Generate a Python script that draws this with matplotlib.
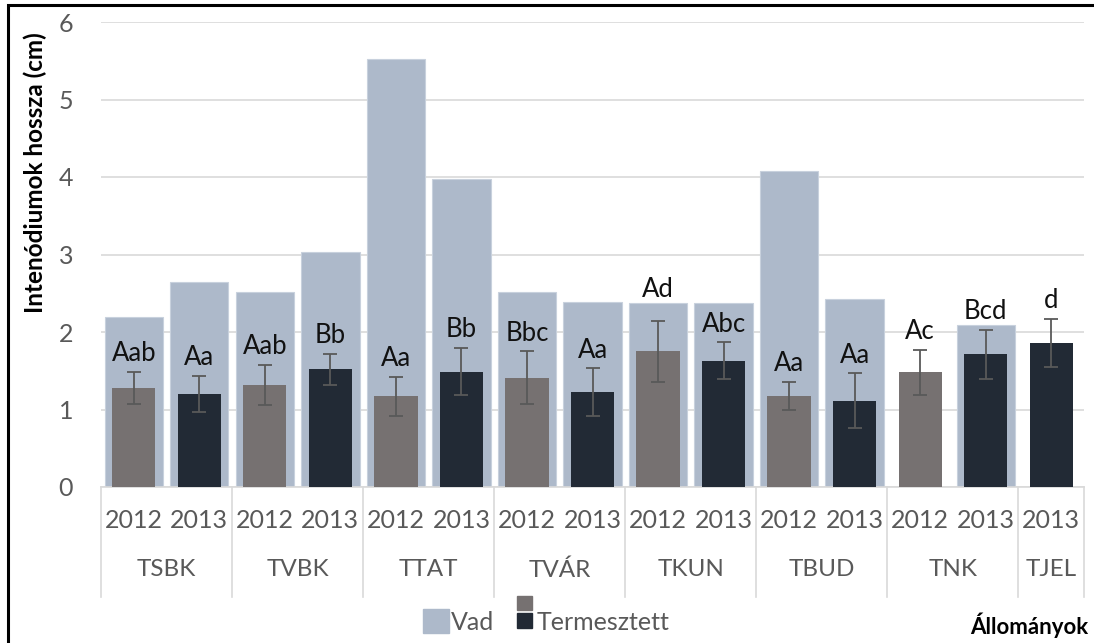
import numpy as np
import matplotlib
matplotlib.use("Agg")
from matplotlib import pyplot as plt
from matplotlib.patches import Rectangle

plt.rcParams['font.family'] = ['Lato', 'DejaVu Sans']

# allomanyok (stations) and the number of years under each
stations = ['TSBK', 'TVBK', 'TTAT', 'TVÁR', 'TKUN', 'TBUD', 'TNK', 'TJEL']
station_years = [2, 2, 2, 2, 2, 2, 2, 1]

years = ['2012', '2013', '2012', '2013', '2012', '2013', '2012', '2013',
         '2012', '2013', '2012', '2013', '2012', '2013', '2013']

# Vad (wild) - no value for TNK 2012 and TJEL 2013
vad = [2.20, 2.64, 2.52, 3.03, 5.52, 3.98, 2.52, 2.39,
       2.37, 2.37, 4.08, 2.43, None, 2.09, None]

# Termesztett (cultivated) means and errors
termesztett = [1.28, 1.20, 1.32, 1.52, 1.17, 1.49, 1.41, 1.22,
               1.75, 1.63, 1.18, 1.11, 1.48, 1.71, 1.86]
hiba = [0.21, 0.23, 0.26, 0.20, 0.25, 0.30, 0.34, 0.31,
        0.39, 0.235, 0.18, 0.355, 0.29, 0.32, 0.31]

betuk = ['Aab', 'Aa', 'Aab', 'Bb', 'Aa', 'Bb', 'Bbc', 'Aa',
         'Ad', 'Abc', 'Aa', 'Aa', 'Ac', 'Bcd', 'd']

colVad = '#ADB9CA'
col2012 = '#767171'
col2013 = '#222A35'
colTick = '#595959'
colGrid = '#D9D9D9'

W, H = 1094, 643
def fx(px):
    return px / W
def fy(py):
    return 1 - py / H

fig = plt.figure(figsize=(W / 100, H / 100), dpi=100)
ax = fig.add_axes([fx(101), fy(487), fx(1084) - fx(101), fy(22) - fy(487)])

x = np.arange(len(years))

'''
Wide light bars for Vad
'''
vadArr = np.array([np.nan if v is None else v for v in vad])
ok = ~np.isnan(vadArr)
ax.bar(x[ok], vadArr[ok], width=0.89, color=colVad, edgecolor='#C8D1DD',
       linewidth=0.8, zorder=2)

'''
Narrow bars for Termesztett, coloured by year
'''
colors = [col2012 if y == '2012' else col2013 for y in years]
ax.bar(x, termesztett, width=0.66, color=colors, zorder=3)
ax.errorbar(x, termesztett, yerr=hiba, fmt='none', ecolor=colTick,
            elinewidth=1.3, capsize=4.7, capthick=1.3, zorder=4)

# letters above the error bars, lifted over the Vad bar if they would hit its top
for i in range(len(x)):
    yt = termesztett[i] + hiba[i] + 0.14
    if ok[i] and yt < vadArr[i] < yt + 0.3:
        yt = vadArr[i] + 0.08
    ax.text(x[i], yt, betuk[i], ha='center', va='baseline', fontsize=18.5,
            color='#111111', zorder=5)

ax.set_xlim(-0.5, len(years) - 0.5)
ax.set_ylim(0, 6)
ax.set_yticks(range(7))
ax.yaxis.grid(True, color=colGrid, lw=1.2)
ax.set_axisbelow(True)
for s in ['top', 'right', 'left']:
    ax.spines[s].set_visible(False)
ax.spines['bottom'].set_color(colGrid)
ax.spines['bottom'].set_linewidth(1.2)

ax.set_xticks(x)
ax.set_xticklabels(years)
ax.tick_params(axis='y', length=0, labelsize=18, labelcolor=colTick, pad=20)
ax.tick_params(axis='x', length=0, labelsize=18, labelcolor=colTick, pad=16)

'''
Second level of categories: station names and separator lines
'''
trans = ax.get_xaxis_transform()
start = -0.5
bounds = [start]
for name, n in zip(stations, station_years):
    ax.text(start + n / 2, -(570 - 487) / 465, name, transform=trans,
            ha='center', va='center', fontsize=17.5, color=colTick)
    start += n
    bounds.append(start)
for b in bounds:
    ax.plot([b, b], [0, -(597 - 487) / 465], transform=trans, color=colGrid,
            lw=1.2, clip_on=False)

fig.text(fx(35), fy(173), 'Intenódiumok hossza (cm)', rotation=90,
         ha='center', va='center', fontsize=17.5, fontweight='bold')

'''
Legend drawn by hand (stacked squares for the two years)
'''
fig.add_artist(Rectangle((fx(423), fy(633)), fx(449) - fx(423), fy(609) - fy(633),
                         transform=fig.transFigure, color=colVad))
fig.text(fx(451), fy(622), 'Vad', ha='left', va='center', fontsize=18, color=colTick)
fig.add_artist(Rectangle((fx(517), fy(610)), fx(532) - fx(517), fy(596) - fy(610),
                         transform=fig.transFigure, color=col2012))
fig.add_artist(Rectangle((fx(517), fy(628)), fx(532) - fx(517), fy(613) - fy(628),
                         transform=fig.transFigure, color=col2013))
fig.text(fx(537), fy(622), 'Termesztett', ha='left', va='center', fontsize=18,
         color=colTick)

fig.text(fx(1088), fy(625), 'Állományok', ha='right', va='center', fontsize=16,
         fontweight='bold', color='black')

# outer frame
fig.add_artist(Rectangle((fx(8), -0.1), 1.2, fy(5) + 0.1, transform=fig.transFigure,
                         fill=False, lw=2.2, ec='black'))

fig.savefig('out.png', dpi=100)
